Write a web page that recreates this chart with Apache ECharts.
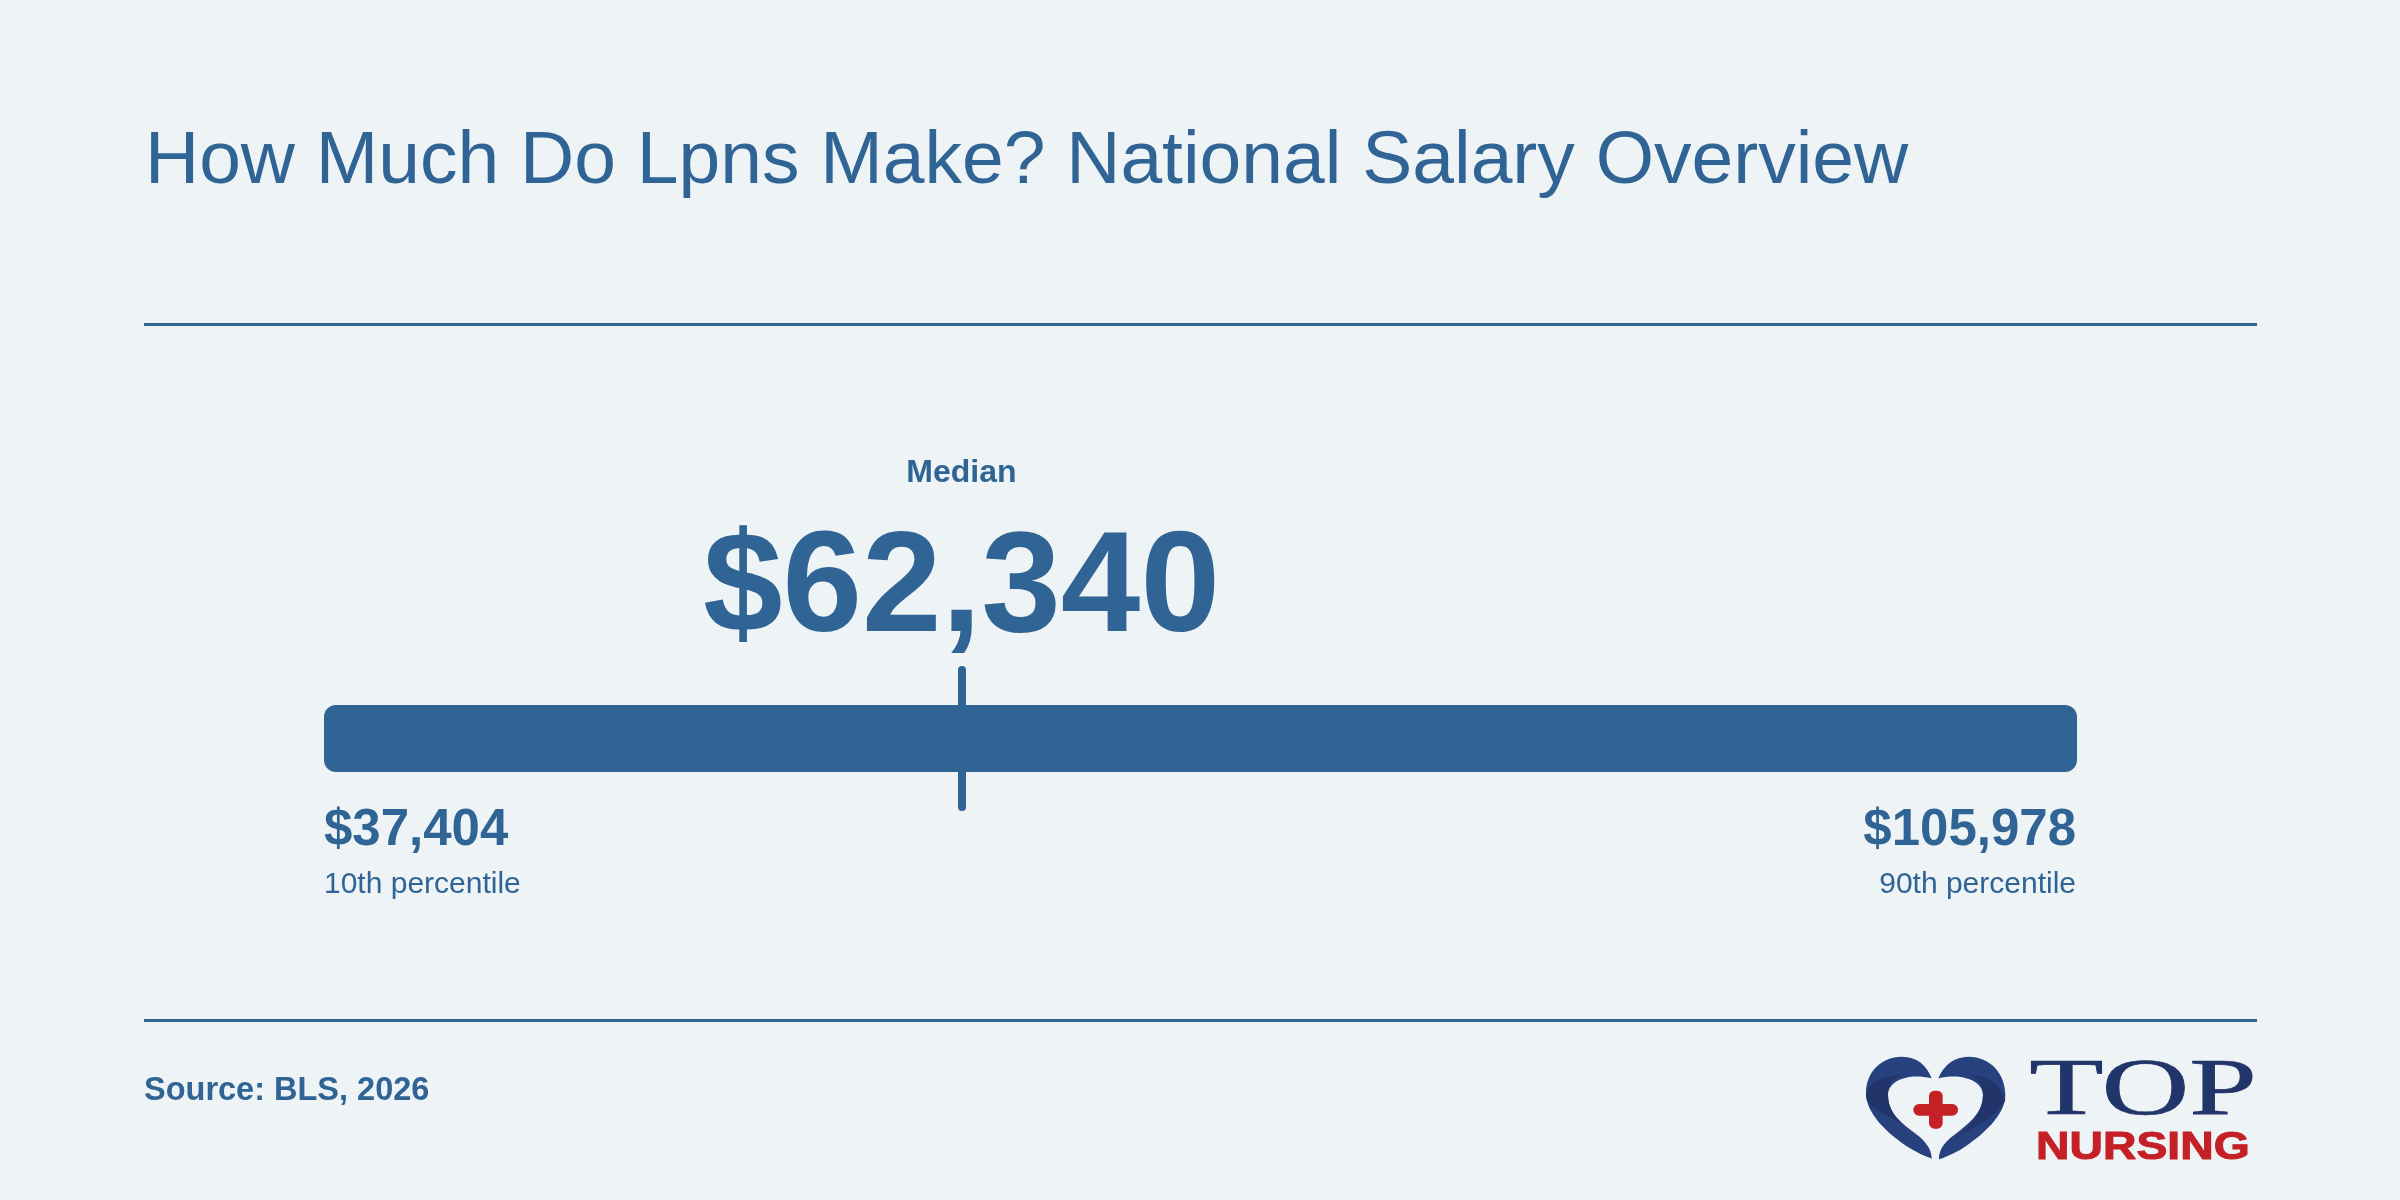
<!DOCTYPE html>
<html>
<head>
<meta charset="UTF-8" />
<title>How Much Do Lpns Make?</title>
<style type="text/css">
	* { margin: 0; padding: 0; }
	body { background: #eef3f6; }
	#main { width: 2400px; height: 1200px; }
</style>
</head>
<body>
<div id="main"></div>
<script src="https://cdn.jsdelivr.net/npm/echarts@6/dist/echarts.min.js"></script>
<script type="text/javascript">
var chartTitle = 'How Much Do Lpns Make? National Salary Overview'
var sourceText = 'Source: BLS, 2026'
var categories = ['Salary']
var low = 37404
var median = 62340
var high = 105978
var lowLabel = '10th percentile'
var medianLabel = 'Median'
var highLabel = '90th percentile'

var blue = '#2f6494'
var font = '"Liberation Sans", Arial, sans-serif'
var gridLeft = 324
var gridWidth = 1753

// the graphic component has no plain path type, so register the logo shapes
var logoShapes = {
	heartLeft: 'M395 235 C380 195 350 170 305 170 C245 170 198 215 198 280 C198 340 260 400 330 445 C360 463 380 470 395 476 C395 445 375 420 335 392 C285 355 264 325 264 285 C264 245 320 218 395 235 Z',
	heartRight: 'M415 235 C430 195 465 170 505 170 C570 170 616 220 616 285 C616 345 550 405 480 450 C450 466 432 473 417 478 C415 445 440 420 475 395 C525 358 549 325 549 285 C549 245 490 218 415 235 Z',
	shadeLeft: 'M198 285 C205 245 250 225 310 226 C275 232 264 260 264 285 C264 320 280 345 300 368 C250 340 198 320 198 285 Z',
	shadeRight: 'M616 300 C600 250 560 228 510 226 C535 235 549 260 549 285 C549 330 520 370 470 410 C530 380 600 340 616 300 Z'
}
Object.keys(logoShapes).forEach(function (name) {
	echarts.graphic.registerShape(name, echarts.graphic.extendPath(logoShapes[name]))
})

function money(v) {
	return '$' + v.toLocaleString('en-US')
}

function label(text, x, y, size, weight, align) {
	return {
		type: 'text', x: x, y: y, silent: true,
		style: {
			text: text, fill: blue, textAlign: align, verticalAlign: 'middle',
			font: weight + ' ' + size + 'px ' + font
		}
	}
}

function rule(y) {
	return {
		type: 'rect', silent: true,
		shape: { x: 144, y: y, width: 2113, height: 3 },
		style: { fill: blue }
	}
}

// logo, drawn in crop coordinates (3x) and scaled down
function logo() {
	return {
		type: 'group', x: 1800, y: 1000, scaleX: 1 / 3, scaleY: 1 / 3, silent: true,
		children: [
			{ type: 'heartLeft', style: { fill: '#27417e' } },
			{ type: 'heartRight', style: { fill: '#27417e' } },
			{ type: 'shadeLeft', style: { fill: '#22356b' } },
			{ type: 'shadeRight', style: { fill: '#22356b' } },
			{ type: 'rect', shape: { x: 340, y: 312, width: 134, height: 35, r: 17 }, style: { fill: '#c42026' } },
			{ type: 'rect', shape: { x: 387, y: 272, width: 41, height: 114, r: 16 }, style: { fill: '#c42026' } },
			{
				type: 'text', x: 688, y: 279, scaleX: 1.52,
				style: { text: 'TOP', fill: '#22356b', stroke: '#22356b', lineWidth: 2, verticalAlign: 'middle', font: '240px "Liberation Serif", serif' }
			},
			{
				type: 'text', x: 708, y: 447, scaleX: 1.22,
				style: { text: 'NURSING', fill: '#c42026', stroke: '#c42026', lineWidth: 3, verticalAlign: 'middle', font: 'bold 114px ' + font }
			}
		]
	}
}

var myChart = echarts.init(document.getElementById('main'))

var option = {
	animation: false,
	backgroundColor: '#eef3f6',
	title: {
		text: chartTitle, left: 140, top: 120,
		textStyle: { color: blue, fontFamily: font, fontWeight: 'normal', fontSize: 75 }
	},
	grid: { left: gridLeft, width: gridWidth, top: 670, height: 137 },
	xAxis: { type: 'value', min: low, max: high, show: false },
	yAxis: { type: 'category', data: categories, show: false },
	series: [{
		type: 'bar',
		data: [high],
		barWidth: 67,
		itemStyle: { color: blue, borderRadius: 12 },
		markLine: {
			silent: true,
			symbol: 'none',
			label: { show: false },
			lineStyle: { color: blue, width: 8, type: 'solid', cap: 'round' },
			data: [{ xAxis: median }]
		}
	}]
}
myChart.setOption(option)

var medianX = myChart.convertToPixel({ xAxisIndex: 0 }, median)
myChart.setOption({
	graphic: [
		rule(323),
		rule(1019),
		label(medianLabel, medianX, 473, 32, 'bold', 'center'),
		label(money(median), medianX, 592, 143, 'bold', 'center'),
		label(money(low), gridLeft, 831, 51, 'bold', 'left'),
		label(lowLabel, gridLeft, 885, 30, 'normal', 'left'),
		label(money(high), gridLeft + gridWidth - 1, 831, 51, 'bold', 'right'),
		label(highLabel, gridLeft + gridWidth - 1, 885, 30, 'normal', 'right'),
		label(sourceText, 144, 1091, 32.5, 'bold', 'left'),
		logo()
	]
})
</script>
</body>
</html>
